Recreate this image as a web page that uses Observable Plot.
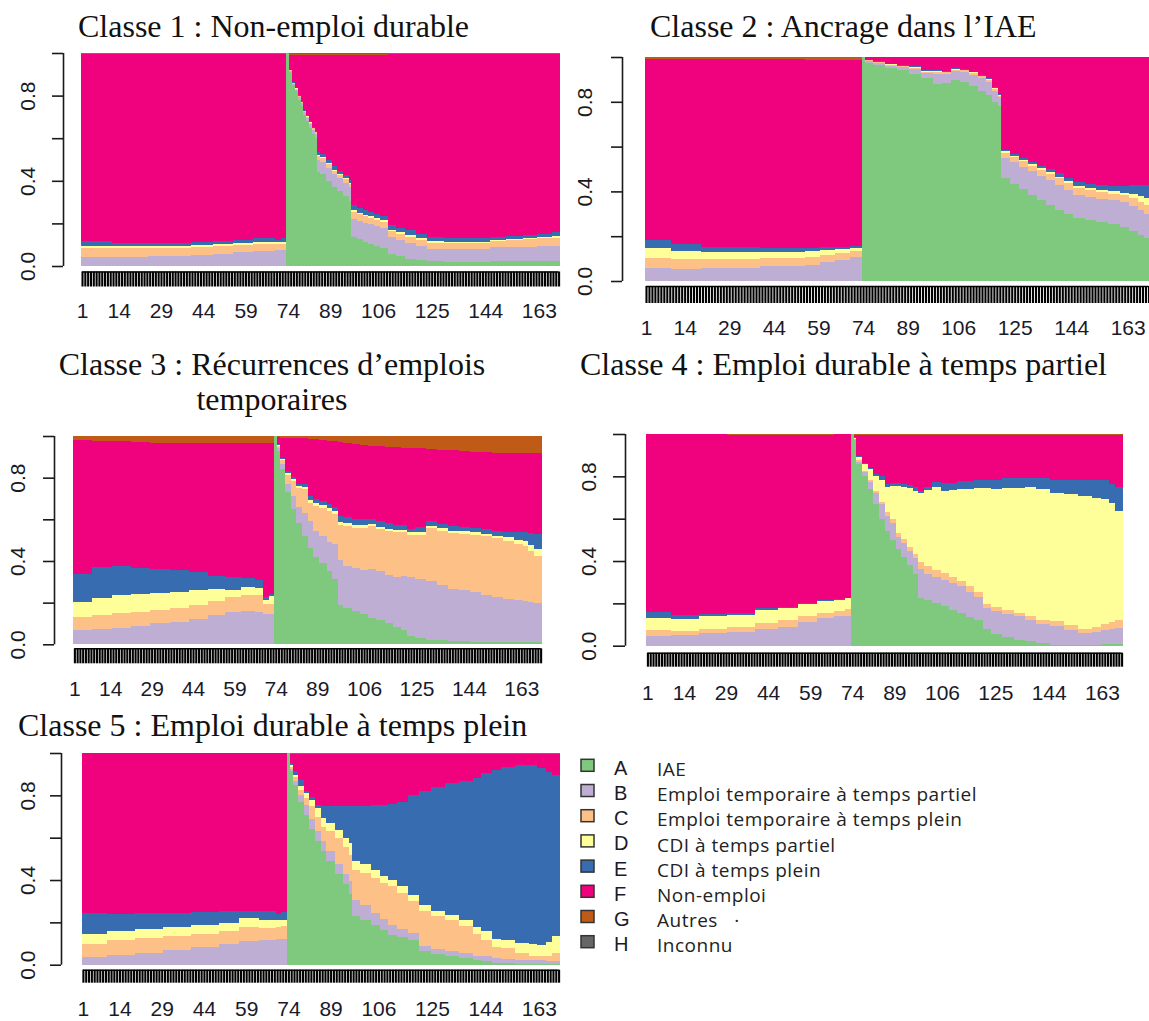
<!DOCTYPE html>
<html>
<head>
<meta charset="utf-8">
<script src="https://cdn.jsdelivr.net/npm/d3@7"></script>
<script src="https://cdn.jsdelivr.net/npm/@observablehq/plot@0.6"></script>
<style>
  html, body { margin: 0; padding: 0; background: #fff; }
  #page { position: relative; width: 1149px; height: 1021px; overflow: hidden; background: #fff; }
  #page svg { position: absolute; }
</style>
</head>
<body>
<div id="page"></div>
<script>
// ---------- states ----------
const stateCodes = ["A", "B", "C", "D", "E", "F", "G", "H"];
const stateLabels = ["IAE", "Emploi temporaire à temps partiel", "Emploi temporaire à temps plein",
  "CDI à temps partiel", "CDI à temps plein", "Non-emploi", "Autres   ·", "Inconnu"];
const stateColors = ["#7FC97F", "#BEAED4", "#FDC086", "#FFFF99", "#386CB0", "#F0027F", "#BF5B17", "#666666"];

// ---------- axes ----------
const monthCount = 170;
const xTickLabels = [1, 14, 29, 44, 59, 74, 89, 106, 125, 144, 163];
const yTickValues = [0, 0.2, 0.4, 0.6, 0.8, 1];
const yTickLabels = [0, 0.4, 0.8];

// ---------- titles ----------
const title1 = ["Classe 1 : Non-emploi durable"];
const title2 = ["Classe 2 : Ancrage dans l’IAE"];
const title3 = ["Classe 3 : Récurrences d’emplois", "temporaires"];
const title4 = ["Classe 4 : Emploi durable à temps partiel"];
const title5 = ["Classe 5 : Emploi durable à temps plein"];

// ---------- data: [first month, A, B, C, D, E, F, G, H] (share, valid until next row) ----------
const class1 = [
  [1, 0, .042, .042, .012, .020, .878, .006, 0],
  [12, 0, .042, .042, .010, .015, .885, .006, 0],
  [25, 0, .045, .040, .010, .012, .887, .006, 0],
  [40, 0, .050, .040, .010, .012, .882, .006, 0],
  [48, 0, .056, .038, .010, .014, .876, .006, 0],
  [55, 0, .065, .035, .010, .012, .872, .006, 0],
  [62, 0, .072, .033, .008, .017, .864, .006, 0],
  [70, 0, .074, .030, .008, .010, .872, .006, 0],
  [72, 0, .075, .030, .008, .018, .863, .006, 0],
  [74, 1, 0, 0, 0, 0, 0, 0, 0],
  [75, .91, .005, .003, .002, .002, .070, .003, .005],
  [76, .85, .006, .003, .002, .002, .129, .003, .005],
  [77, .82, .008, .004, .002, .002, .156, .003, .005],
  [78, .78, .012, .005, .002, .003, .190, .003, .005],
  [79, .75, .013, .005, .002, .003, .219, .003, .005],
  [80, .71, .013, .005, .002, .003, .259, .003, .005],
  [81, .68, .015, .006, .003, .003, .285, .003, .005],
  [82, .65, .017, .006, .003, .004, .312, .003, .005],
  [83, .62, .020, .007, .003, .004, .338, .003, .005],
  [84, .60, .020, .007, .003, .004, .358, .003, .005],
  [85, .44, .060, .015, .005, .015, .457, .003, .005],
  [86, .43, .060, .015, .005, .015, .467, .003, .005],
  [88, .40, .062, .015, .005, .015, .495, .003, .005],
  [90, .37, .063, .015, .005, .015, .524, .003, .005],
  [92, .35, .063, .015, .005, .014, .545, .003, .005],
  [94, .33, .062, .015, .005, .013, .567, .003, .005],
  [96, .305, .065, .015, .005, .013, .589, .003, .005],
  [97, .135, .088, .030, .008, .024, .707, .003, .005],
  [99, .125, .088, .030, .008, .020, .721, .003, .005],
  [101, .115, .088, .030, .008, .020, .731, .003, .005],
  [103, .105, .090, .030, .008, .019, .740, .003, .005],
  [105, .095, .092, .030, .008, .018, .749, .003, .005],
  [107, .085, .093, .030, .008, .018, .758, .003, .005],
  [110, .055, .080, .028, .008, .020, .803, .006, 0],
  [113, .045, .078, .028, .008, .020, .815, .006, 0],
  [116, .035, .075, .028, .008, .021, .827, .006, 0],
  [120, .027, .068, .028, .008, .018, .845, .006, 0],
  [124, .022, .058, .028, .008, .018, .860, .006, 0],
  [130, .020, .058, .028, .007, .017, .864, .006, 0],
  [140, .020, .060, .028, .007, .015, .864, .006, 0],
  [146, .022, .065, .030, .007, .013, .857, .006, 0],
  [152, .022, .068, .032, .007, .012, .853, .006, 0],
  [158, .022, .068, .035, .007, .012, .850, .006, 0],
  [163, .022, .070, .038, .008, .012, .844, .006, 0],
  [168, .022, .070, .040, .008, .018, .836, .006, 0]
];

const class2 = [
  [1, 0, .056, .045, .045, .037, .810, .007, 0],
  [10, 0, .055, .045, .035, .030, .828, .007, 0],
  [20, 0, .058, .040, .030, .025, .840, .007, 0],
  [30, 0, .060, .038, .030, .022, .843, .007, 0],
  [40, 0, .065, .036, .028, .020, .844, .007, 0],
  [50, 0, .068, .035, .027, .018, .845, .007, 0],
  [55, 0, .072, .035, .025, .016, .838, .014, 0],
  [60, 0, .085, .033, .020, .012, .836, .014, 0],
  [65, 0, .095, .030, .018, .010, .833, .014, 0],
  [70, 0, .105, .030, .012, .008, .831, .014, 0],
  [74, 1, 0, 0, 0, 0, 0, 0, 0],
  [75, .975, .008, .003, .001, .001, .012, 0, 0],
  [78, .965, .010, .003, .001, .001, .020, 0, 0],
  [82, .950, .012, .003, .002, .002, .031, 0, 0],
  [86, .940, .015, .004, .002, .002, .037, 0, 0],
  [90, .925, .022, .005, .003, .003, .042, 0, 0],
  [94, .905, .025, .005, .003, .003, .059, 0, 0],
  [98, .880, .045, .008, .003, .004, .060, 0, 0],
  [101, .885, .040, .007, .003, .003, .062, 0, 0],
  [104, .897, .040, .007, .003, .003, .050, 0, 0],
  [107, .890, .043, .007, .003, .003, .054, 0, 0],
  [110, .870, .050, .008, .003, .004, .065, 0, 0],
  [113, .850, .055, .008, .003, .004, .080, 0, 0],
  [116, .830, .058, .008, .004, .005, .095, 0, 0],
  [118, .800, .050, .008, .004, .005, .133, 0, 0],
  [120, .780, .040, .008, .004, .005, .163, 0, 0],
  [121, .458, .090, .023, .008, .006, .415, 0, 0],
  [124, .435, .095, .022, .008, .008, .432, 0, 0],
  [127, .410, .100, .024, .008, .008, .450, 0, 0],
  [130, .385, .105, .025, .008, .009, .468, 0, 0],
  [133, .360, .110, .026, .008, .010, .486, 0, 0],
  [136, .340, .112, .027, .008, .012, .501, 0, 0],
  [139, .318, .112, .028, .008, .014, .520, 0, 0],
  [142, .300, .108, .030, .008, .016, .538, 0, 0],
  [145, .280, .104, .031, .009, .018, .558, 0, 0],
  [149, .272, .103, .031, .009, .020, .565, 0, 0],
  [153, .265, .103, .030, .009, .022, .571, 0, 0],
  [157, .255, .105, .030, .010, .025, .575, 0, 0],
  [161, .243, .108, .032, .012, .030, .575, 0, 0],
  [164, .225, .110, .035, .018, .040, .572, 0, 0],
  [167, .205, .110, .038, .025, .050, .572, 0, 0],
  [169, .190, .110, .040, .030, .058, .572, 0, 0]
];

const class3 = [
  [1, 0, .070, .060, .072, .135, .643, .020, 0],
  [8, 0, .075, .065, .080, .150, .608, .022, 0],
  [15, 0, .080, .070, .085, .140, .600, .025, 0],
  [22, 0, .090, .065, .085, .125, .605, .030, 0],
  [29, 0, .100, .065, .080, .115, .608, .032, 0],
  [36, 0, .107, .065, .080, .105, .610, .033, 0],
  [43, 0, .120, .070, .070, .085, .622, .033, 0],
  [50, 0, .140, .070, .055, .065, .637, .033, 0],
  [56, 0, .155, .072, .035, .060, .645, .033, 0],
  [62, 0, .160, .075, .040, .045, .647, .033, 0],
  [67, 0, .155, .080, .035, .040, .657, .033, 0],
  [70, 0, .145, .050, .020, .010, .742, .033, 0],
  [72, 0, .145, .050, .035, .010, .727, .033, 0],
  [74, 1, 0, 0, 0, 0, 0, 0, 0],
  [75, .93, .010, .010, .005, .005, .033, .007, 0],
  [76, .84, .025, .020, .005, .005, .097, .008, 0],
  [78, .73, .040, .045, .008, .007, .160, .010, 0],
  [80, .65, .060, .075, .010, .010, .185, .010, 0],
  [82, .58, .080, .090, .010, .010, .218, .012, 0],
  [84, .52, .110, .115, .010, .015, .218, .012, 0],
  [86, .46, .130, .090, .012, .018, .277, .013, 0],
  [88, .42, .125, .120, .012, .020, .288, .015, 0],
  [90, .39, .130, .135, .012, .022, .293, .018, 0],
  [93, .35, .140, .150, .013, .022, .303, .022, 0],
  [95, .315, .165, .145, .013, .022, .315, .025, 0],
  [97, .19, .215, .170, .013, .027, .355, .030, 0],
  [99, .175, .200, .195, .012, .028, .357, .033, 0],
  [102, .16, .205, .195, .012, .028, .363, .037, 0],
  [105, .145, .210, .205, .012, .028, .357, .043, 0],
  [108, .127, .236, .203, .010, .027, .349, .048, 0],
  [111, .115, .235, .205, .010, .025, .360, .050, 0],
  [114, .10, .235, .210, .010, .025, .368, .052, 0],
  [117, .085, .240, .215, .010, .025, .370, .055, 0],
  [120, .07, .260, .210, .010, .025, .369, .056, 0],
  [122, .04, .285, .200, .012, .018, .387, .058, 0],
  [125, .03, .285, .210, .012, .025, .378, .060, 0],
  [129, .023, .280, .255, .012, .020, .348, .062, 0],
  [133, .02, .265, .260, .012, .020, .358, .065, 0],
  [137, .017, .250, .265, .012, .022, .366, .068, 0],
  [141, .015, .245, .270, .012, .022, .364, .072, 0],
  [145, .013, .237, .275, .012, .023, .365, .075, 0],
  [149, .013, .225, .280, .012, .022, .370, .078, 0],
  [153, .013, .215, .280, .013, .024, .375, .080, 0],
  [157, .013, .205, .280, .015, .027, .380, .080, 0],
  [161, .013, .200, .270, .020, .037, .378, .082, 0],
  [164, .013, .195, .265, .025, .040, .379, .083, 0],
  [166, .013, .190, .245, .030, .055, .384, .083, 0],
  [168, .013, .185, .225, .035, .070, .389, .083, 0]
];

const class4 = [
  [1, 0, .047, .029, .054, .027, .843, 0, 0],
  [10, 0, .050, .020, .056, .020, .854, 0, 0],
  [20, 0, .058, .022, .058, .012, .850, 0, 0],
  [30, 0, .065, .022, .058, .010, .840, .005, 0],
  [40, 0, .079, .028, .063, .008, .817, .005, 0],
  [48, 0, .090, .030, .060, .005, .810, .005, 0],
  [55, 0, .110, .030, .055, .005, .795, .005, 0],
  [62, 0, .130, .025, .058, .005, .777, .005, 0],
  [68, 0, .139, .023, .055, .003, .780, 0, 0],
  [72, 0, .139, .035, .050, .002, .774, 0, 0],
  [74, 1, 0, 0, 0, 0, 0, 0, 0],
  [75, .97, .005, .003, .005, .002, .010, .005, 0],
  [76, .86, .010, .005, .015, .005, .100, .005, 0],
  [78, .80, .020, .005, .035, .005, .130, .005, 0],
  [80, .74, .035, .008, .050, .007, .155, .005, 0],
  [82, .67, .050, .010, .070, .010, .185, .005, 0],
  [84, .60, .070, .010, .105, .015, .195, .005, 0],
  [86, .54, .075, .015, .120, .015, .230, .005, 0],
  [88, .50, .080, .020, .155, .015, .225, .005, 0],
  [90, .455, .060, .018, .220, .015, .227, .005, 0],
  [92, .42, .065, .020, .245, .015, .230, .005, 0],
  [94, .38, .065, .020, .280, .015, .235, .005, 0],
  [96, .34, .075, .018, .300, .017, .245, .005, 0],
  [98, .225, .135, .037, .323, .010, .265, .005, 0],
  [100, .215, .125, .035, .360, .015, .245, .005, 0],
  [103, .20, .125, .033, .390, .027, .220, .005, 0],
  [106, .186, .126, .030, .390, .035, .228, .005, 0],
  [109, .17, .125, .030, .410, .035, .225, .005, 0],
  [112, .154, .126, .024, .436, .040, .215, .005, 0],
  [115, .135, .120, .025, .460, .040, .215, .005, 0],
  [118, .12, .110, .025, .490, .040, .210, .005, 0],
  [121, .08, .100, .015, .550, .040, .210, .005, 0],
  [124, .055, .110, .017, .560, .043, .210, .005, 0],
  [128, .04, .110, .017, .580, .043, .205, .005, 0],
  [132, .028, .111, .015, .591, .045, .205, .005, 0],
  [136, .02, .100, .018, .612, .040, .205, .005, 0],
  [140, .012, .090, .020, .620, .048, .205, .005, 0],
  [145, .005, .086, .024, .605, .064, .211, .005, 0],
  [150, .003, .072, .025, .615, .070, .210, .005, 0],
  [155, .002, .058, .018, .630, .077, .210, .005, 0],
  [160, .005, .058, .025, .610, .087, .210, .005, 0],
  [163, .008, .065, .030, .590, .092, .210, .005, 0],
  [166, .010, .068, .035, .560, .092, .230, .005, 0],
  [168, .010, .072, .040, .515, .115, .243, .005, 0]
];

const class5 = [
  [1, 0, .035, .063, .047, .099, .756, 0, 0],
  [10, 0, .044, .074, .042, .079, .761, 0, 0],
  [20, 0, .055, .070, .042, .075, .758, 0, 0],
  [30, 0, .070, .065, .042, .067, .756, 0, 0],
  [40, 0, .085, .058, .045, .061, .751, 0, 0],
  [50, 0, .100, .057, .040, .055, .748, 0, 0],
  [57, 0, .110, .066, .044, .032, .748, 0, 0],
  [64, 0, .118, .055, .040, .040, .747, 0, 0],
  [70, 0, .120, .060, .033, .027, .760, 0, 0],
  [72, 0, .121, .060, .032, .037, .750, 0, 0],
  [74, 1, 0, 0, 0, 0, 0, 0, 0],
  [75, .913, .010, .010, .010, .010, .044, .003, 0],
  [76, .85, .020, .015, .010, .020, .082, .003, 0],
  [78, .77, .030, .025, .018, .030, .124, .003, 0],
  [80, .709, .047, .031, .024, .008, .178, .003, 0],
  [82, .64, .048, .060, .030, .012, .207, .003, 0],
  [84, .583, .047, .070, .040, .016, .241, .003, 0],
  [86, .535, .047, .070, .040, .058, .247, .003, 0],
  [88, .488, .047, .095, .039, .079, .249, .003, 0],
  [91, .43, .047, .120, .040, .113, .247, .003, 0],
  [94, .38, .050, .125, .045, .150, .247, .003, 0],
  [96, .335, .060, .125, .055, .173, .249, .003, 0],
  [97, .228, .079, .142, .039, .260, .249, .003, 0],
  [100, .21, .070, .155, .040, .275, .247, .003, 0],
  [104, .189, .055, .165, .040, .307, .241, .003, 0],
  [107, .165, .050, .170, .035, .336, .241, .003, 0],
  [110, .142, .047, .181, .032, .358, .237, .003, 0],
  [113, .13, .040, .170, .032, .398, .227, .003, 0],
  [117, .118, .032, .149, .032, .472, .194, .003, 0],
  [121, .063, .024, .165, .031, .537, .177, .003, 0],
  [125, .05, .024, .155, .027, .584, .157, .003, 0],
  [130, .039, .024, .150, .023, .622, .139, .003, 0],
  [135, .03, .023, .130, .027, .660, .127, .003, 0],
  [140, .02, .023, .100, .035, .702, .117, .003, 0],
  [143, .016, .023, .079, .039, .749, .091, .003, 0],
  [147, .01, .024, .050, .039, .797, .077, .003, 0],
  [150, .006, .022, .050, .039, .818, .062, .003, 0],
  [155, .003, .021, .031, .047, .843, .052, .003, 0],
  [160, .003, .020, .018, .055, .849, .052, .003, 0],
  [163, .003, .020, .016, .055, .835, .068, .003, 0],
  [166, .003, .015, .025, .065, .800, .089, .003, 0],
  [168, .003, .013, .039, .079, .764, .099, .003, 0]
];

// ---------- layout (page pixels) ----------
const panels = [
  {rows: class1, title: title1, tx: 78, ty: [37], anchor: "start", left: 0, width: 575,
   frame: {l: 80.6, r: 560, t: 52.5, b: 265.5}, yAxisX: 63, yTickLen: 11, yLabelX: 28, barTop: 271, barLen: 15, labelY: 310},
  {rows: class2, title: title2, tx: 650, ty: [37], anchor: "start", left: 570, width: 600,
   frame: {l: 644.5, r: 1150, t: 57, b: 281}, yAxisX: 622, yTickLen: 11, yLabelX: 585, barTop: 286, barLen: 17, labelY: 327},
  {rows: class3, title: title3, tx: 272, ty: [375, 410], anchor: "middle", left: 0, width: 565,
   frame: {l: 73, r: 542, t: 435.7, b: 644}, yAxisX: 54, yTickLen: 11, yLabelX: 18, barTop: 648, barLen: 15, labelY: 688},
  {rows: class4, title: title4, tx: 580, ty: [375], anchor: "start", left: 570, width: 579,
   frame: {l: 646, r: 1123, t: 434.3, b: 646}, yAxisX: 625, yTickLen: 12, yLabelX: 588.5, barTop: 653, barLen: 14, labelY: 692},
  {rows: class5, title: title5, tx: 18, ty: [736], anchor: "start", left: 0, width: 575,
   frame: {l: 81.5, r: 560, t: 753.3, b: 965}, yAxisX: 61, yTickLen: 11, yLabelX: 28, barTop: 970, barLen: 13, labelY: 1008}
];

const page = document.getElementById("page");
const monthTicks = d3.range(1, monthCount + 1);

function toRects(rows) {
  const out = [];
  rows.forEach((r, i) => {
    const start = r[0];
    const end = i + 1 < rows.length ? rows[i + 1][0] : monthCount + 1;
    let cum = 0;
    stateCodes.forEach((s, k) => {
      const v = r[k + 1];
      if (v > 0) out.push({state: s, m0: start - 0.5, m1: end - 0.5, lo: cum, hi: cum + v});
      cum += v;
    });
  });
  return out;
}

// overlay for titles and legend
const overlay = d3.select(page).append("svg")
  .attr("width", 1149).attr("height", 1021)
  .style("left", "0px").style("top", "0px");

panels.forEach(p => {
  const svgTop = p.frame.t - 8;
  const height = Math.round(p.labelY + 24 - svgTop);
  const width = p.width;
  const marginLeft = p.frame.l - p.left;
  const marginRight = width - (p.frame.r - p.left);
  const marginTop = p.frame.t - svgTop;
  const marginBottom = svgTop + height - p.frame.b;
  const axisDx = p.yAxisX - p.frame.l;
  const barDy = p.barTop - p.frame.b;

  const chart = Plot.plot({
    width, height, marginLeft, marginRight, marginTop, marginBottom,
    x: {domain: [0.5, monthCount + 0.5], axis: null, label: null},
    y: {domain: [0, 1], axis: null, label: null},
    color: {domain: stateCodes, range: stateColors},
    style: {background: "transparent", fontFamily: "'Liberation Sans', Arial, sans-serif", fontSize: "21px", color: "#1a1a1a", overflow: "visible"},
    marks: [
      Plot.rect(toRects(p.rows), {x1: d => d.m0, x2: d => d.m1, y1: d => d.lo, y2: d => d.hi, fill: d => d.state, shapeRendering: "crispEdges"}),
      Plot.ruleX([0.5], {y1: 0, y2: 1, dx: axisDx, stroke: "#1a1a1a", strokeWidth: 1.6}),
      Plot.axisY({ticks: yTickValues, tickSize: p.yTickLen, tickFormat: () => "", label: null, dx: axisDx, stroke: "#1a1a1a", strokeWidth: 1.6}),
      Plot.text(yTickLabels, {y: d => d, text: d => d.toFixed(1), frameAnchor: "left", rotate: -90, dx: p.yLabelX - p.frame.l,
        textAnchor: "middle", fontSize: 21, fill: "#1a1a1a"}),
      Plot.ruleY([0], {x1: monthTicks[0], x2: monthTicks[monthTicks.length - 1], dy: barDy, stroke: "#000", strokeWidth: 1.5}),
      Plot.axisX({ticks: monthTicks, tickSize: p.barLen, tickPadding: p.labelY - 7.5 - p.barTop - p.barLen,
        tickFormat: d => xTickLabels.includes(d) ? String(d) : "", label: null, dy: barDy,
        stroke: "#000", strokeWidth: 2.1, fontSize: 21, fill: "#1a1a2a"})
    ]
  });
  chart.style.left = p.left + "px";
  chart.style.top = svgTop + "px";
  page.appendChild(chart);

  // title
  const t = overlay.append("text")
    .attr("font-family", "'Liberation Serif', 'Times New Roman', serif")
    .attr("font-size", 32).attr("fill", "#111")
    .attr("text-anchor", p.anchor);
  p.title.forEach((line, i) => {
    t.append("tspan").attr("x", p.tx).attr("y", p.ty[i]).text(line);
  });
});

// legend
const legendSquareX = 581, legendFirstY = 765.3, legendStep = 25.2;
const lg = overlay.append("g");
stateCodes.forEach((s, i) => {
  const cy = legendFirstY + i * legendStep;
  lg.append("rect").attr("x", legendSquareX).attr("y", cy - 6).attr("width", 13).attr("height", 12)
    .attr("fill", stateColors[i]).attr("stroke", "#333").attr("stroke-width", 1.5);
  lg.append("text").attr("x", 614).attr("y", cy + 2.5).attr("dy", "0.35em")
    .attr("font-family", "'Liberation Sans', Arial, sans-serif").attr("font-size", 20).attr("fill", "#1a1a2a")
    .text(s);
  lg.append("text").attr("x", 657).attr("y", cy + 4).attr("dy", "0.35em")
    .attr("font-family", "'Open Sans', 'Noto Sans', sans-serif").attr("font-size", 19)
    .attr("letter-spacing", "0.5px").attr("fill", "#222")
    .style("white-space", "pre")
    .text(stateLabels[i]);
});
</script>
</body>
</html>
